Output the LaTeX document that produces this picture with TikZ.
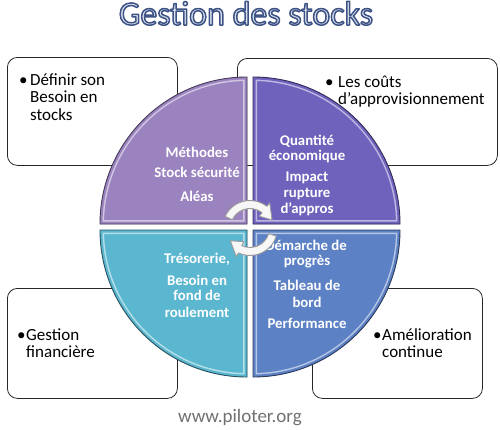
\documentclass[tikz,border=0pt]{standalone}
\usepackage{fontspec}
\setmainfont{Carlito}
\usetikzlibrary{calc}
\definecolor{qtl}{HTML}{9A83BF}
\definecolor{qtr}{HTML}{6E62BD}
\definecolor{qbl}{HTML}{5BB7CF}
\definecolor{qbr}{HTML}{5D81C5}
\definecolor{titlefill}{HTML}{DCE3EE}
\definecolor{footgray}{HTML}{707070}
\newcommand\drawquad[2]{%
  \fill[#1] #2;
  \begin{scope}
    \clip #2;
    \draw[white!55!#1, line width=8pt] #2;
    \draw[#1, line width=5pt] #2;
  \end{scope}
  \draw[#1!45!black, line width=0.9pt] #2;
}
\newcommand\outlinedtext[1]{\textcolor{titlefill}{\special{pdf:literal direct 0.24 0.32 0.52 RG 1.5 w 1 j 2 Tr}#1\special{pdf:literal direct 0 Tr}}}
\tikzset{
  infobox/.style={draw=black!85, line width=0.8pt, fill=white, rounded corners=10pt, inner sep=0pt, anchor=north west},
  boxtext/.style={font=\fontsize{17}{18}\selectfont, text=black, anchor=base west, inner sep=0pt},
  quadtext/.style={font=\bfseries\fontsize{14.8}{16}\selectfont, text=white, anchor=base, inner sep=0pt},
  cyclearrow/.style={fill=gray!6, draw=gray!80, line width=0.9pt, line join=round},
}
\begin{document}
\begin{tikzpicture}[x=1pt,y=-1pt]
\useasboundingbox (0,0) rectangle (500,429);
% boxes
\node[infobox, minimum width=170pt, minimum height=108pt] (btl) at (7,57) {};
\node[infobox, minimum width=260pt, minimum height=107pt] (btr) at (237,58) {};
\node[infobox, minimum width=170pt, minimum height=110pt] (bbl) at (7,288) {};
\node[infobox, minimum width=170pt, minimum height=110pt] (bbr) at (312,288) {};
% box texts
\node[boxtext] (tl0) at (19,85) {•};
\node[boxtext] (tl1) at (30,85) {Définir son};
\node[boxtext] (tl2) at (30,102.5) {Besoin en};
\node[boxtext] (tl3) at (30,120) {stocks};
\node[boxtext] (tr0) at (325,87) {•};
\node[boxtext] (tr1) at (338,87) {Les coûts};
\node[boxtext] (tr2) at (338,104) {d’approvisionnement};
\node[boxtext] (bl0) at (17,340) {•};
\node[boxtext] (bl1) at (26,340) {Gestion};
\node[boxtext] (bl2) at (26,357) {financière};
\node[boxtext] (br0) at (373,340) {•};
\node[boxtext] (br1) at (382,340) {Amélioration};
\node[boxtext] (br2) at (382,357) {continue};
% quadrants
\drawquad{qtl}{(247,224) -- ++(0,-147) arc[start angle=-90, end angle=-180, radius=147] -- cycle}
\drawquad{qtr}{(253,224) -- ++(0,-147) arc[start angle=-90, end angle=0, radius=147] -- cycle}
\drawquad{qbl}{(247,230) -- ++(-147,0) arc[start angle=180, end angle=90, radius=147] -- cycle}
\drawquad{qbr}{(253,230) -- ++(147,0) arc[start angle=0, end angle=90, radius=147] -- cycle}
% quadrant texts
\node[quadtext] (q11) at (197,157) {Méthodes};
\node[quadtext] (q12) at (197,177) {Stock sécurité};
\node[quadtext] (q13) at (197,201) {Aléas};
\node[quadtext] (q21) at (307,145) {Quantité};
\node[quadtext] (q22) at (307,160) {économique};
\node[quadtext] (q23) at (307,181) {Impact};
\node[quadtext] (q24) at (307,197) {rupture};
\node[quadtext] (q25) at (307,213) {d’appros};
\node[quadtext] (q31) at (197,263) {Trésorerie,};
\node[quadtext] (q32) at (197,285) {Besoin en};
\node[quadtext] (q33) at (197,300) {fond de};
\node[quadtext] (q34) at (197,317) {roulement};
\node[quadtext] (q41) at (306,250) {Démarche de};
\node[quadtext] (q42) at (307,265) {progrès};
\node[quadtext] (q43) at (307,290) {Tableau de};
\node[quadtext] (q44) at (307,307) {bord};
\node[quadtext] (q45) at (307,328) {Performance};
% cycle arrows
\coordinate (c) at (250,228);
\draw[cyclearrow] ($(c)+(-155:27.5)$) arc[start angle=-155, end angle=-52, radius=27.5]
  -- ($(c)+(-52:32)$) -- ($(c)+(-20:23.5)$) -- ($(c)+(-52:15)$) -- ($(c)+(-52:19.5)$)
  arc[start angle=-52, end angle=-155, radius=19.5] -- cycle;
\draw[cyclearrow] ($(c)+(17:27.5)$) arc[start angle=17, end angle=115, radius=27.5]
  -- ($(c)+(115:32)$) -- ($(c)+(147:23.5)$) -- ($(c)+(115:15)$) -- ($(c)+(115:19.5)$)
  arc[start angle=115, end angle=17, radius=19.5] -- cycle;
% title and footer
\node[anchor=base, inner sep=0pt, font=\fontsize{34}{36}\selectfont] (title) at (246,25)
  {\outlinedtext{Gestion des stocks}};
\node[anchor=base, inner sep=0pt, text=footgray, font=\fontsize{19}{21}\selectfont] (foot) at (240,422) {www.piloter.org};
\end{tikzpicture}
\end{document}
